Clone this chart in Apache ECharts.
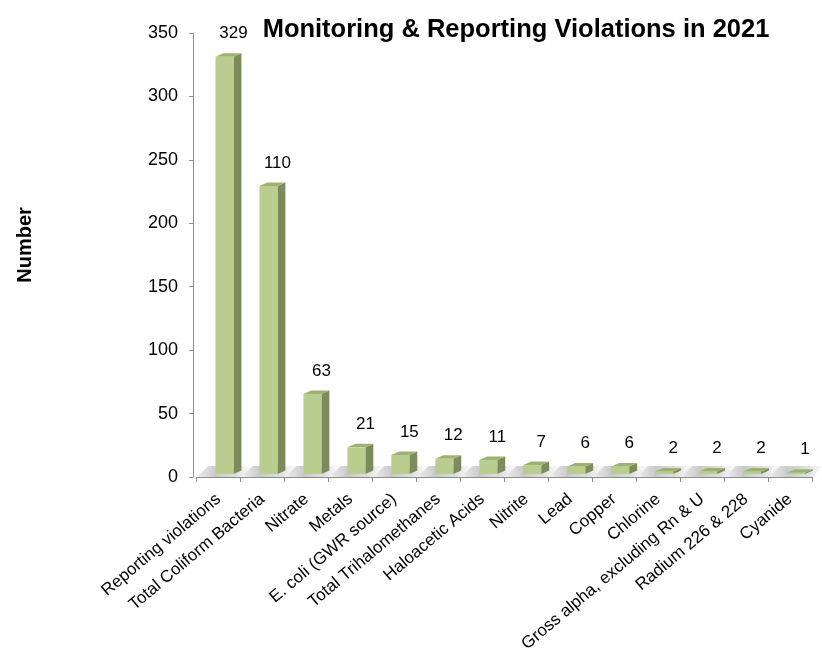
<!DOCTYPE html>
<html>
<head>
<meta charset="utf-8">
<script src="https://cdn.jsdelivr.net/npm/echarts@6/dist/echarts.min.js"></script>
<style>html,body{margin:0;padding:0;background:#fff}#c{width:822px;height:652px}</style>
</head>
<body>
<div id="c"></div>
<script>
const categories = ['Reporting violations','Total Coliform Bacteria','Nitrate','Metals','E. coli (GWR source)','Total Trihalomethanes','Haloacetic Acids','Nitrite','Lead','Copper','Chlorine','Gross alpha, excluding Rn & U','Radium 226 & 228','Cyanide'];
const barValues = [329, 227, 63, 21, 15, 12, 11, 7, 6, 6, 2, 2, 2, 1];
const valueLabels = ['329','110','63','21','15','12','11','7','6','6','2','2','2','1'];
const yTicks = [0, 50, 100, 150, 200, 250, 300, 350];

const chart = echarts.init(document.getElementById('c'), null, {renderer: 'canvas'});
const font = '"Liberation Sans", Arial, sans-serif';

function renderItem(params, api) {
  const idx = api.value(0), val = api.value(1);
  const base = api.coord([idx, 0]);
  const top = api.coord([idx, val]);
  const band = api.size([1, 0])[0];
  const cx = base[0];
  const x0 = cx - band / 2, x1 = cx + band / 2;
  const yb = base[1];
  const fdx = 12, fh = 11;
  const w = band * 0.41, dx = band * 0.18, dy = 3.5;
  const fl = cx - 3, fr = fl + w;
  const by = yb - 3, ty = top[1] - 3;
  return {
    type: 'group',
    children: [
      { type: 'polygon', shape: { points: [[x0, yb], [x1, yb], [x1 + fdx, yb - fh], [x0 + fdx, yb - fh]] },
        style: { fill: new echarts.graphic.LinearGradient(0, 0, 1, 0, [
          {offset: 0, color: '#f0f0f0'}, {offset: 0.35, color: '#c9c9c9'}, {offset: 0.7, color: '#dedede'}, {offset: 1, color: '#ffffff'}]) } },
      { type: 'polygon', shape: { points: [[fr, by], [fr + dx, by - dy], [fr + dx, ty - dy], [fr, ty]] },
        style: { fill: '#7b8b5c' } },
      { type: 'polygon', shape: { points: [[fl, ty], [fr, ty], [fr + dx, ty - dy], [fl + dx, ty - dy]] },
        style: { fill: '#9db270' } },
      { type: 'rect', shape: { x: fl, y: ty, width: w, height: by - ty },
        style: { fill: '#b9cd8f' } },
      { type: 'text', style: { text: valueLabels[idx], x: cx + 15, y: top[1] - 26,
        align: 'center', verticalAlign: 'middle', fill: '#000', font: '17px ' + font } }
    ]
  };
}

chart.setOption({
  animation: false,
  title: {
    text: 'Monitoring & Reporting Violations in 2021',
    left: 511, top: 12, textAlign: 'center',
    textStyle: { fontFamily: font, fontWeight: 'bold', fontSize: 25.5, color: '#000' }
  },
  graphic: [{
    type: 'text', x: 25, y: 245, rotation: Math.PI / 2,
    style: { text: 'Number', font: 'bold 20px ' + font, fill: '#000', align: 'center', verticalAlign: 'middle' }
  }],
  grid: { left: 196.5, right: 10, top: 33, bottom: 175, containLabel: false, outerBoundsMode: 'none' },
  xAxis: {
    type: 'category', data: categories,
    axisLine: { lineStyle: { color: '#8c8c8c', width: 1 } },
    axisTick: { show: true, interval: 0, length: 5, lineStyle: { color: '#8c8c8c' } },
    axisLabel: { interval: 0, rotate: 40, margin: 20, fontSize: 17, fontFamily: font, color: '#000' }
  },
  yAxis: {
    type: 'value', min: 0, max: 350, interval: 50, offset: 3.5,
    axisLine: { show: true, lineStyle: { color: '#8c8c8c', width: 1 } },
    axisTick: { show: true, length: 4, lineStyle: { color: '#8c8c8c' } },
    splitLine: { show: false },
    axisLabel: { fontSize: 18, fontFamily: font, color: '#000', margin: 15,
      formatter: v => yTicks.includes(v) ? String(v) : '' }
  },
  series: [{
    type: 'custom', renderItem: renderItem, clip: false,
    encode: { x: 0, y: 1 },
    data: barValues.map((v, i) => [i, v])
  }]
});
</script>
</body>
</html>
